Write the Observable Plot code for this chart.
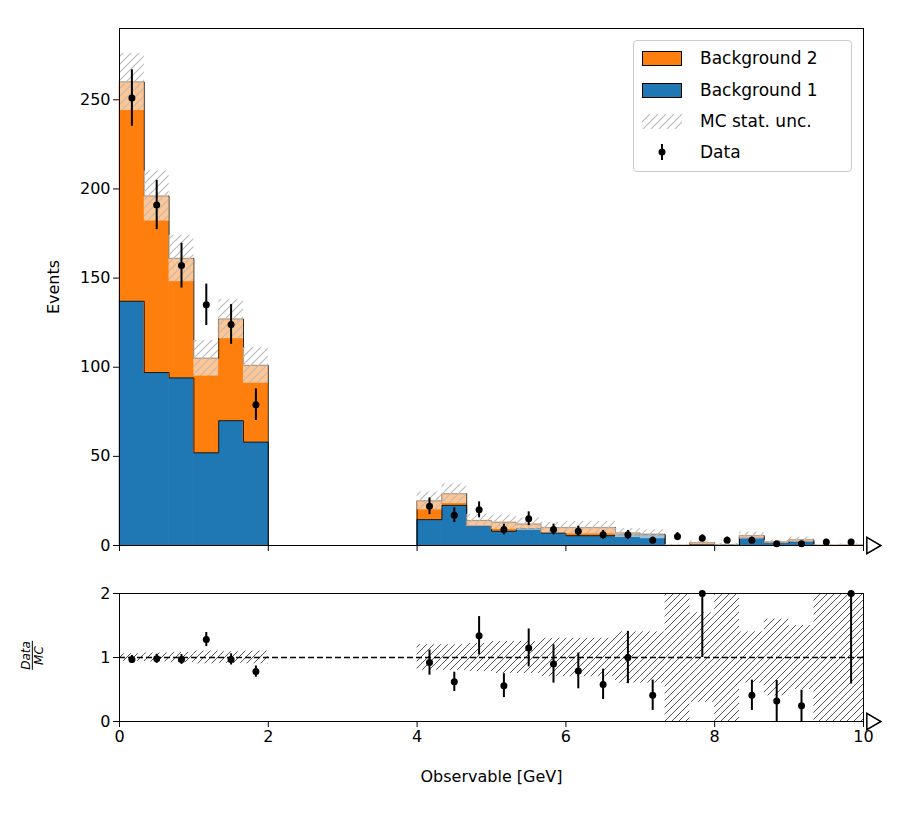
<!DOCTYPE html>
<html><head><meta charset="utf-8">
<script src="https://cdn.jsdelivr.net/npm/d3@7"></script>
<script src="https://cdn.jsdelivr.net/npm/@observablehq/plot@0.6"></script>
<style>
body{margin:0;background:#fff;font-family:"DejaVu Sans",sans-serif;}
#wrap{position:relative;width:905px;height:817px;}
#wrap svg{display:block;}
.legend{position:absolute;left:633px;top:40px;width:217px;height:130px;border:1px solid #ccc;border-radius:4px;background:rgba(255,255,255,0.8);font-size:17px;}
.row{position:absolute;left:8px;height:20px;display:flex;align-items:center;}
.sw{width:40px;height:15px;margin-right:18px;box-sizing:border-box;}
.frac{position:absolute;left:18px;top:643px;transform:rotate(-90deg);font-size:12px;font-style:italic;text-align:center;line-height:12px;}
</style></head><body>
<div id="wrap"></div>
<script>
// 30 bins of width 1/3 on [0,10]; bins 6..11 empty
const binLo = d3.range(30).map(i => i / 3)
const bg1   = [137, 97, 94, 52, 70, 58, 0,0,0,0,0,0, 14.5, 22.5, 11, 8, 9.5, 7, 5.5, 5.5, 6, 6, 0, 0.3, 0.2, 4.2, 1.5, 2.2, 0, 0]
const total = [260, 196, 161, 105, 127, 101, 0,0,0,0,0,0, 25, 29, 14, 13, 12, 10, 10, 10, 7, 6.3, 0.1, 1.5, 0.5, 5.5, 2, 3.2, 0.1, 0.3]
const mcUnc = [16, 14, 13, 10, 11, 10, 0,0,0,0,0,0, 5, 5.5, 3.5, 4, 3.5, 3, 3.5, 3.5, 2.5, 2.5, 0.5, 1, 0.7, 2, 1, 1.5, 0.4, 0.6]
const dataN = [251, 191, 157, 135, 124, 79, 0,0,0,0,0,0, 22, 17, 20, 9, 15, 9, 8, 6, 6, 3, 5, 4, 3, 3, 1, 1, 2, 2]
const ratio = [0.97, 0.98, 0.97, 1.28, 0.97, 0.78, null,null,null,null,null,null, 0.92, 0.62, 1.34, 0.56, 1.15, 0.9, 0.79, 0.58, 1.0, 0.41, null, 2.0, null, 0.41, 0.32, 0.245, null, 2.0]
const ratioUnc = [0.06, 0.07, 0.08, 0.1, 0.09, 0.1, 0,0,0,0,0,0, 0.2, 0.2, 0.22, 0.25, 0.25, 0.3, 0.3, 0.3, 0.4, 0.4, 3, 0.7, 3, 0.4, 0.6, 0.5, 3, 3]

const bins = binLo.map((x, i) => ({x1: x, x2: x + 1/3, xc: x + 1/6, b1: bg1[i], tot: total[i], u: mcUnc[i],
  n: dataN[i], r: ratio[i], ru: ratioUnc[i], seg: x < 3 ? 0 : 1}))
const filled = bins.filter(d => d.tot > 0)
const pts = bins.filter(d => d.n > 0)
const rpts = bins.filter(d => d.r != null)
// step outlines for each contiguous segment, closing at the right edge
const outline = key => [0, 1].flatMap(s => {
  const b = filled.filter(d => d.seg === s)
  const last = b[b.length - 1]
  return [{x: b[0].x1, y: 0, s}, ...b.map(d => ({x: d.x1, y: d[key], s})), {x: last.x2, y: last[key], s}, {x: last.x2, y: 0, s}]
})
const blue = '#1f77b4', orange = '#ff7f0e'
const font = {fontFamily: 'DejaVu Sans', fontSize: '16px'}

const mainChart = Plot.plot({
  width: 905, height: 560, marginLeft: 119, marginRight: 42, marginTop: 28, marginBottom: 15,
  style: font,
  x: {domain: [0, 10], ticks: [0,2,4,6,8,10], tickFormat: () => '', tickSize: 6, label: null},
  y: {domain: [0, 290], ticks: [0,50,100,150,200,250], label: 'Events', labelAnchor: 'center', labelArrow: 'none', labelOffset: 72, tickSize: 6},
  marks: [
    Plot.rectY(filled, {x1: 'x1', x2: 'x2', y1: 0, y2: 'b1', fill: blue, inset: -0.3}),
    Plot.rectY(filled.filter(d => d.tot > d.b1), {x1: 'x1', x2: 'x2', y1: 'b1', y2: 'tot', fill: orange, inset: -0.3}),
    Plot.line(outline('b1'), {x: 'x', y: 'y', z: 's', curve: 'step-after', stroke: 'black', strokeWidth: 0.8}),
    Plot.line(outline('tot'), {x: 'x', y: 'y', z: 's', curve: 'step-after', stroke: 'black', strokeWidth: 0.8}),
    Plot.rectY(filled, {x1: 'x1', x2: 'x2', y1: d => Math.max(0, d.tot - d.u), y2: d => d.tot + d.u, fill: 'url(#hatchL)', inset: 0}),
    Plot.ruleX(pts, {x: 'xc', y1: d => d.n - Math.sqrt(d.n), y2: d => d.n + Math.sqrt(d.n), strokeWidth: 2}),
    Plot.dot(pts, {x: 'xc', y: 'n', r: 3.5, fill: 'black'}),
    Plot.frame({stroke: 'black'}),
    Plot.dot([10], {x: d => d, y: 0, symbol: 'triangle', rotate: 90, r: 6, dx: 8, fill: 'white', stroke: 'black', clip: false})
  ]
})

const ratioChart = Plot.plot({
  width: 905, height: 257, marginLeft: 119, marginRight: 42, marginTop: 33, marginBottom: 96,
  style: font,
  x: {domain: [0, 10], ticks: [0,2,4,6,8,10], label: 'Observable [GeV]', labelAnchor: 'center', labelArrow: 'none', labelOffset: 60, tickSize: 6},
  y: {domain: [0, 2], ticks: [0,1,2], tickFormat: d3.format('d'), label: null, tickSize: 6},
  marks: [
    Plot.rectY(filled, {x1: 'x1', x2: 'x2', y1: d => Math.max(0, 1 - d.ru), y2: d => Math.min(2, 1 + d.ru), fill: 'url(#hatchD)', inset: 0}),
    Plot.ruleY([1], {strokeDasharray: '6,3', strokeWidth: 1.3}),
    Plot.ruleX(rpts, {x: 'xc', y1: d => Math.max(0, d.r - d.r / Math.sqrt(d.n)), y2: d => Math.min(2, d.r + d.r / Math.sqrt(d.n)), strokeWidth: 2}),
    Plot.dot(rpts, {x: 'xc', y: 'r', r: 3.5, fill: 'black'}),
    Plot.frame({stroke: 'black'}),
    Plot.dot([10], {x: d => d, y: 0, symbol: 'triangle', rotate: 90, r: 6, dx: 8, fill: 'white', stroke: 'black', clip: false})
  ]
})

const defs = `<defs>
<pattern id="hatchL" patternUnits="userSpaceOnUse" width="8" height="8"><rect width="8" height="8" fill="rgba(255,255,255,0.55)"/><path d="M-2,2 l4,-4 M0,8 l8,-8 M6,10 l4,-4" stroke="#bbb" stroke-width="1.2"/></pattern>
<pattern id="hatchD" patternUnits="userSpaceOnUse" width="7" height="7"><path d="M-2,2 l4,-4 M0,7 l7,-7 M5,9 l4,-4" stroke="#555" stroke-width="1"/></pattern></defs>`
for (const c of [mainChart, ratioChart]) c.insertAdjacentHTML('afterbegin', defs)

const wrap = d3.select('#wrap')
wrap.append(() => mainChart)
wrap.append(() => ratioChart)
wrap.append('div').attr('class', 'frac').html('Data<div style="border-top:1px solid #000">MC</div>')
wrap.append('div').attr('class', 'legend').html(`
<div class="row" style="top:7px"><div class="sw" style="background:${orange};border:1px solid #000"></div>Background 2</div>
<div class="row" style="top:39px"><div class="sw" style="background:${blue};border:1px solid #000"></div>Background 1</div>
<div class="row" style="top:70px"><svg class="sw" width="40" height="15"><defs><pattern id="hatchL2" patternUnits="userSpaceOnUse" width="8" height="8"><path d="M-2,2 l4,-4 M0,8 l8,-8 M6,10 l4,-4" stroke="#bbb" stroke-width="1.2"/></pattern></defs><rect width="40" height="15" fill="url(#hatchL2)"/></svg>MC stat. unc.</div>
<div class="row" style="top:101px"><svg class="sw" width="40" height="20" style="height:20px"><line x1="20" x2="20" y1="2" y2="18" stroke="#000" stroke-width="2"/><circle cx="20" cy="10" r="3.5"/></svg>Data</div>`)
</script></body></html>
